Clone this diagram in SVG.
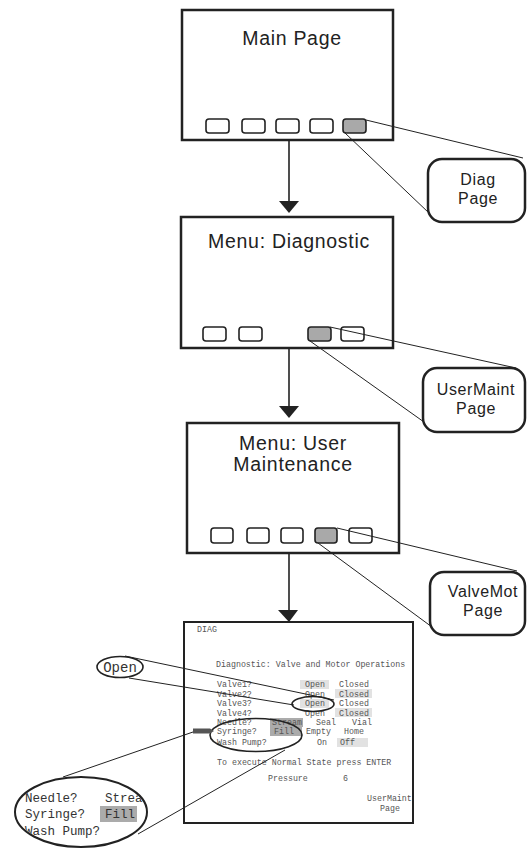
<svg xmlns="http://www.w3.org/2000/svg" width="527" height="848" viewBox="0 0 527 848">
<style>
.box{fill:#fff;stroke:#222;stroke-width:2.5}
.btn{fill:#fff;stroke:#222;stroke-width:1.6}
.btn.on{fill:#a9a9a9}
.lbl{font-family:"Liberation Sans",Arial,sans-serif;font-size:19.5px;letter-spacing:0.7px;fill:#222;text-anchor:middle}
.call{fill:#fff;stroke:#222;stroke-width:2.5}
.ctx{font-family:"Liberation Sans",Arial,sans-serif;font-size:16px;letter-spacing:0.6px;fill:#222;text-anchor:middle}
.ln{stroke:#222;stroke-width:1;fill:none}
.ar{stroke:#222;stroke-width:1.6;fill:none}
.mono{font-family:"Liberation Mono","Courier New",monospace;font-size:8.3px;fill:#555}
.big{font-family:"Liberation Mono","Courier New",monospace;font-size:12.5px;fill:#333}
.hl{fill:#e2e2e2}
.hd{fill:#ababab}
.oval{fill:none;stroke:#222;stroke-width:1.6}
</style>
<defs>
<clipPath id="cl"><ellipse cx="81" cy="812" rx="65" ry="34"/></clipPath>
</defs>

<g id="main-page">
<rect class="box" x="182" y="10" width="211" height="130"/>
<text class="lbl" x="292" y="45">Main Page</text>
<rect class="btn" x="206" y="119" width="23" height="14" rx="3"/>
<rect class="btn" x="242" y="119" width="23" height="14" rx="3"/>
<rect class="btn" x="276" y="119" width="23" height="14" rx="3"/>
<rect class="btn" x="310" y="119" width="23" height="14" rx="3"/>
<rect class="btn on" x="343" y="119" width="23" height="14" rx="3"/>
</g>

<g id="menu-diagnostic">
<rect class="box" x="181" y="217" width="212" height="131"/>
<text class="lbl" x="289" y="248">Menu: Diagnostic</text>
<rect class="btn" x="203" y="327" width="23" height="14" rx="3"/>
<rect class="btn" x="239" y="327" width="23" height="14" rx="3"/>
<rect class="btn on" x="308" y="327" width="23" height="14" rx="3"/>
<rect class="btn" x="341" y="327" width="23" height="14" rx="3"/>
</g>

<g id="menu-user-maintenance">
<rect class="box" x="187" y="423" width="212" height="130"/>
<text class="lbl" x="293" y="450">Menu:  User</text>
<text class="lbl" x="293" y="471">Maintenance</text>
<rect class="btn" x="211" y="528" width="22" height="15" rx="3"/>
<rect class="btn" x="247" y="528" width="22" height="15" rx="3"/>
<rect class="btn" x="281" y="528" width="22" height="15" rx="3"/>
<rect class="btn on" x="315" y="528" width="22" height="15" rx="3"/>
<rect class="btn" x="349" y="528" width="23" height="15" rx="3"/>
</g>

<g id="diag-page-callout">
<rect class="call" x="428" y="159" width="97" height="63" rx="14"/>
<text class="ctx" x="478" y="185">Diag</text>
<text class="ctx" x="478" y="204">Page</text>
</g>

<g id="usermaint-page-callout">
<rect class="call" x="423" y="368" width="102" height="64" rx="14"/>
<text class="ctx" x="476" y="395">UserMaint</text>
<text class="ctx" x="476" y="414">Page</text>
</g>

<g id="valvemot-page-callout">
<rect class="call" x="430" y="572" width="95" height="63" rx="14"/>
<text class="ctx" x="483" y="597">ValveMot</text>
<text class="ctx" x="483" y="616">Page</text>
</g>

<g id="diag-screen">
<rect x="184" y="622" width="229" height="201" fill="#fff" stroke="#222" stroke-width="2"/>
<rect class="hl" x="300" y="680" width="29" height="9"/>
<rect class="hl" x="335" y="689" width="37" height="9"/>
<rect class="hl" x="300" y="699" width="29" height="9"/>
<rect class="hl" x="335" y="708" width="37" height="9"/>
<rect class="hd" x="270" y="718" width="33" height="9"/>
<rect class="hd" x="270" y="727" width="32" height="9"/>
<rect class="hl" x="337" y="738" width="31" height="9"/>
<text class="mono" x="197" y="632">DIAG</text>
<text class="mono" x="216" y="667">Diagnostic: Valve and Motor Operations</text>
<text class="mono" x="217" y="687">Valve1?</text><text class="mono" x="305" y="687">Open</text><text class="mono" x="339" y="687">Closed</text>
<text class="mono" x="217" y="697">Valve2?</text><text class="mono" x="305" y="697">Open</text><text class="mono" x="339" y="697">Closed</text>
<text class="mono" x="217" y="706">Valve3?</text><text class="mono" x="305" y="706">Open</text><text class="mono" x="339" y="706">Closed</text>
<text class="mono" x="217" y="716">Valve4?</text><text class="mono" x="305" y="716">Open</text><text class="mono" x="339" y="716">Closed</text>
<text class="mono" x="217" y="725">Needle?</text><text class="mono" x="272" y="725">Stream</text><text class="mono" x="316" y="725">Seal</text><text class="mono" x="352" y="725">Vial</text>
<text class="mono" x="217" y="734">Syringe?</text><text class="mono" x="274" y="734">Fill</text><text class="mono" x="306" y="734">Empty</text><text class="mono" x="344" y="734">Home</text>
<text class="mono" x="217" y="745">Wash Pump?</text><text class="mono" x="317" y="745">On</text><text class="mono" x="340" y="745">Off</text>
<text class="mono" x="217" y="765">To execute Normal State press ENTER</text>
<text class="mono" x="268" y="781">Pressure</text><text class="mono" x="343" y="781">6</text>
<text class="mono" x="367" y="801">UserMaint</text>
<text class="mono" x="380" y="811">Page</text>
<ellipse class="oval" cx="313" cy="704" rx="21" ry="7.5"/>
<ellipse class="oval" cx="256" cy="735" rx="46" ry="16.5"/>
<path d="M193,728.5 L210,728.5 L214,731 L210,733.5 L193,733.5 Z" fill="#555"/>
</g>

<g id="open-callout">
<ellipse class="oval" cx="120" cy="667" rx="23" ry="10.5"/>
<text x="120" y="672" text-anchor="middle" font-family="Liberation Mono, Courier New, monospace" font-size="14" fill="#333">Open</text>
</g>

<g id="zoom-callout">
<g clip-path="url(#cl)">
<rect x="100" y="806" width="37" height="16" fill="#ababab"/>
<text class="big" x="25" y="802">Needle?</text><text class="big" x="105" y="802">Strea</text>
<text class="big" x="25" y="818">Syringe?</text><text class="big" x="105" y="818">Fill</text>
<text class="big" x="25" y="835">Wash Pump?</text>
</g>
<ellipse cx="81" cy="812" rx="66" ry="35" fill="none" stroke="#222" stroke-width="2"/>
</g>

<g id="connectors">
<line class="ar" x1="289" y1="140" x2="289" y2="203"/>
<polygon points="279,201 299,201 289,213" fill="#222"/>
<line class="ar" x1="289" y1="348" x2="289" y2="408"/>
<polygon points="279,406 299,406 289,418" fill="#222"/>
<line class="ar" x1="289" y1="553" x2="289" y2="612"/>
<polygon points="278,610 298,610 289,622" fill="#222"/>
<line class="ln" x1="366" y1="120" x2="523" y2="158"/>
<line class="ln" x1="345" y1="133" x2="429" y2="213"/>
<line class="ln" x1="330" y1="327" x2="516" y2="368"/>
<line class="ln" x1="310" y1="341" x2="424" y2="422"/>
<line class="ln" x1="337" y1="528" x2="517" y2="571"/>
<line class="ln" x1="318" y1="543" x2="432" y2="627"/>
<line class="ln" x1="125" y1="656" x2="334" y2="700"/>
<line class="ln" x1="129" y1="678" x2="294" y2="705"/>
<line class="ln" x1="63" y1="777" x2="193" y2="732"/>
<line class="ln" x1="138" y1="834" x2="285" y2="750"/>
</g>
</svg>
